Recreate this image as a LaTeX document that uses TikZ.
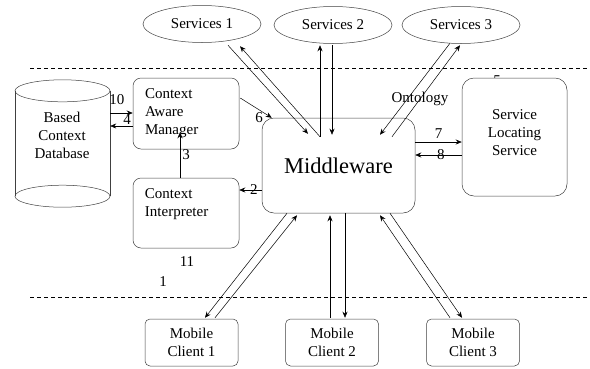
\documentclass[tikz,border=0pt]{standalone}
\usepackage{fontspec}
\setmainfont{Liberation Serif}
\usetikzlibrary{arrows.meta,shapes.geometric,positioning,calc}

\begin{document}
\begin{tikzpicture}[x=1pt,y=-1pt,
  font=\fontsize{15}{18}\selectfont,
  box/.style={draw=black!75, fill=white, rounded corners=8pt, line width=0.5pt},
  svc/.style={draw=black!75, ellipse, minimum width=118pt, minimum height=37pt, inner sep=0pt, line width=0.5pt},
  client/.style={box, rounded corners=5pt, minimum width=93pt, minimum height=47pt, align=center, inner sep=0pt},
  arr/.style={-{Stealth[length=6pt,width=5pt]}, line width=0.5pt},
  lbl/.style={inner sep=1pt},
  sep/.style={dash pattern=on 4pt off 3pt, line width=0.5pt}]
\useasboundingbox (0,0) rectangle (590,368);
% service ellipses
\node[svc] (s1) at (202,24) {Services 1};
\node[svc] (s2) at (333,25) {Services 2};
\node[svc] (s3) at (461,25) {Services 3};
% layer separators
\draw[sep] (30,68) -- (590,68);
\draw[sep] (30,297) -- (588,297);
% context database
\node[minimum width=95pt, minimum height=105pt, inner sep=0pt] (db) at (62.5,143.5) {};
\draw[black!75, line width=0.5pt] (db.north west) -- (db.south west) (db.north east) -- (db.south east);
\draw[black!75, line width=0.5pt] (db.north) ellipse [x radius=47.5, y radius=11];
\draw[black!75, line width=0.5pt] (db.south) ellipse [x radius=47.5, y radius=11];
\node[align=center] (dbtext) at (62,135.5) {Based\\Context\\Database};
% context boxes
\node[box, minimum width=106pt, minimum height=71pt, text width=82pt, align=left, inner xsep=12pt] (cam) at (186,113.5) {Context\\Aware\\Manager};
\node[box, minimum width=106pt, minimum height=70pt] (ci) at (186,213) {};
\node[anchor=north west, align=left, inner sep=0pt] (citext) at ($(ci.north west)+(12,11)$) {Context\\Interpreter};
% free labels
\node (onto) at (420,99) {Ontology};
\node (n5) at (497,81) {5};
\node (n11) at (187,262) {11};
\node (n1) at (163,282) {1};
% middleware and locating service
\node[box, rounded corners=12pt, minimum width=153pt, minimum height=95pt, font=\fontsize{22.5}{26}\selectfont] (mw) at (338.5,165.5) {Middleware};
\node[box, rounded corners=12pt, minimum width=105pt, minimum height=118pt] (sls) at (514.5,137) {};
\node[align=center] (slstext) at ($(sls.center)+(0,-4)$) {Service\\Locating\\Service};
% mobile clients
\foreach \i/\x in {1/191.5,2/332,3/473}
  \node[client] (mc\i) at (\x,342.5) {Mobile\\Client \i};
% services <-> middleware
\draw[arr] ($(s1.south)+(26,2.5)$) -- ($(mw.north)+(-30.5,16)$);
\draw[arr] ($(mw.north)+(-18.5,19)$) -- ($(s1.south)+(38,3.5)$);
\draw[arr] ($(mw.north)+(-18.5,19)$) -- ($(s2.south)+(-13,1.5)$);
\draw[arr] ($(s2.south)+(-1,1.5)$) -- ($(mw.north)+(-6.5,17)$);
\draw[arr] ($(s3.south)+(-11,-0.5)$) -- ($(mw.north)+(41.5,17)$);
\draw[arr] ($(mw.north)+(53.5,19)$) -- ($(s3.south)+(-1,1.5)$);
% clients <-> middleware
\draw[arr] ($(mw.south)+(-51.5,0)$) -- ($(mc1.north)+(13.5,-1)$);
\draw[arr] ($(mc1.north)+(23.5,-1)$) -- ($(mw.south)+(-41.5,2)$);
\draw[arr] ($(mc2.north)+(-2,-1)$) -- ($(mw.south)+(-8.5,2)$);
\draw[arr] ($(mw.south)+(6.5,0)$) -- ($(mc2.north)+(13,-1)$);
\draw[arr] ($(mc3.north)+(-23,-1)$) -- ($(mw.south)+(41.5,2)$);
\draw[arr] ($(mw.south)+(51.5,0)$) -- ($(mc3.north)+(-11,-1)$);
% numbered flows
\draw[arr] ($(db.east)+(0,-30.5)$) -- node[lbl, pos=0.3, above=7pt] {10} ($(cam.west)+(0,-0.5)$);
\draw[arr] ($(cam.west)+(0,12.5)$) -- node[lbl, pos=0.25, above=0pt] {4} ($(db.east)+(0,-17.5)$);
\draw[arr] ($(ci.north)+(-6,0)$) -- node[lbl, pos=0.5, right=1pt] {3} ($(cam.south)+(-6,-17)$);
\draw[arr] ($(cam.east)+(1,-15.5)$) -- node[lbl, pos=0.6, below=1pt] {6} ($(mw.north west)+(10,0)$);
\draw[arr] ($(mw.west)+(0,24.5)$) -- node[lbl, pos=0.35] {2} ($(ci.east)+(0,-23)$);
\draw[arr] ($(mw.east)+(0,-23.5)$) -- node[lbl, above=2pt] {7} ($(sls.west)+(0,5)$);
\draw[arr] ($(sls.west)+(0,18)$) -- node[lbl, pos=0.45] {8} ($(mw.east)+(0,-10.5)$);
\end{tikzpicture}
\end{document}
